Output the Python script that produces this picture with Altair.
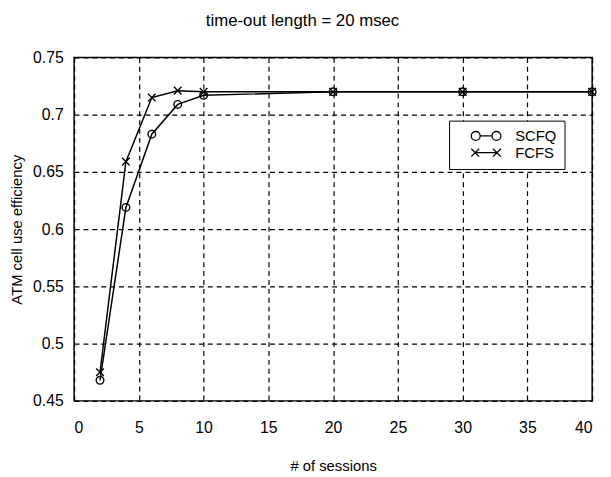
import altair as alt
import pandas as pd

sessions = [2, 4, 6, 8, 10, 20, 30, 40]
scfq = [0.468, 0.619, 0.683, 0.709, 0.717, 0.720, 0.720, 0.720]
fcfs = [0.475, 0.659, 0.715, 0.721, 0.720, 0.720, 0.720, 0.720]
series_names = ["SCFQ", "FCFS"]
x_ticks = [0, 5, 10, 15, 20, 25, 30, 35, 40]
y_ticks = [0.45, 0.5, 0.55, 0.6, 0.65, 0.7, 0.75]

rows = []
for name, vals in zip(series_names, [scfq, fcfs]):
    for s, v in zip(sessions, vals):
        rows.append({"sessions": s, "eff": v, "series": name})
df = pd.DataFrame(rows)

FONT = "Liberation Sans"

CIRCLE = "circle"
XMARK = "M-1,-1L1,1M-1,1L1,-1"
LEG_O = ("M-3,0A0.9,0.9,0,1,0,-1.2,0A0.9,0.9,0,1,0,-3,0Z"
         "M-1.2,0L1.2,0"
         "M1.2,0A0.9,0.9,0,1,0,3,0A0.9,0.9,0,1,0,1.2,0Z")
LEG_X = ("M-3,-0.8L-1.4,0.8M-3,0.8L-1.4,-0.8"
         "M-2.2,0L2.2,0"
         "M1.4,-0.8L3,0.8M1.4,0.8L3,-0.8")

axis_common = dict(
    grid=True, gridColor="black", gridDash=[5, 4], gridWidth=1.2, gridOpacity=1,
    domain=False, ticks=False,
    labelFont=FONT, labelFontSize=16, labelColor="black",
    titleFont=FONT, titleFontSize=15, titleFontWeight="normal", titleColor="black",
)

x_enc = alt.X("sessions:Q",
              scale=alt.Scale(domain=[0, 40], nice=False),
              axis=alt.Axis(values=x_ticks, title="# of sessions", format="d",
                            labelPadding=19, titlePadding=24, **axis_common))
y_enc = alt.Y("eff:Q",
              scale=alt.Scale(domain=[0.45, 0.75], nice=False, zero=False),
              axis=alt.Axis(values=y_ticks, title="ATM cell use efficiency", format=".2~f",
                            labelPadding=11, titlePadding=8, **axis_common))

base = alt.Chart(df)

lines = base.mark_line(color="black", strokeWidth=1.5).encode(
    x=x_enc, y=y_enc, detail="series:N"
)

points = base.mark_point(color="black", filled=False, strokeWidth=1.4, opacity=1).encode(
    x=x_enc, y=y_enc,
    shape=alt.Shape("series:N",
                    scale=alt.Scale(domain=series_names, range=[CIRCLE, XMARK]),
                    legend=None),
    size=alt.value(60),
)

legend_layer = base.mark_point(color="black", filled=False, opacity=0).encode(
    x=x_enc, y=y_enc,
    shape=alt.Shape("series:N",
                    scale=alt.Scale(domain=series_names, range=[LEG_O, LEG_X]),
                    legend=alt.Legend(
                        title=None,
                        orient="none",
                        legendX=380,
                        legendY=64,
                        padding=8,
                        symbolSize=100,
                        symbolOffset=22,
                        labelOffset=22,
                        symbolStrokeColor="black",
                        symbolFillColor="transparent",
                        symbolStrokeWidth=1.3,
                        symbolOpacity=1,
                        labelFontSize=15,
                        labelFont=FONT,
                        labelColor="black",
                        strokeColor="black",
                        fillColor="white",
                        rowPadding=1,
                    )),
)

chart = alt.layer(lines, points, legend_layer).resolve_scale(
    shape="independent"
).properties(
    width=525,
    height=348,
    background="white",
    padding={"left": 67, "top": 47, "right": 11, "bottom": 74},
    autosize=alt.AutoSizeParams(type="none"),
    title=alt.TitleParams(
        "time-out length = 20 msec",
        fontSize=17, fontWeight="normal", font=FONT, color="black",
        anchor="middle", dx=-31, offset=20,
    ),
).configure_view(
    stroke="black", strokeWidth=1.5
)

chart.save("out.html", embed_options={"renderer": "svg", "actions": False})
